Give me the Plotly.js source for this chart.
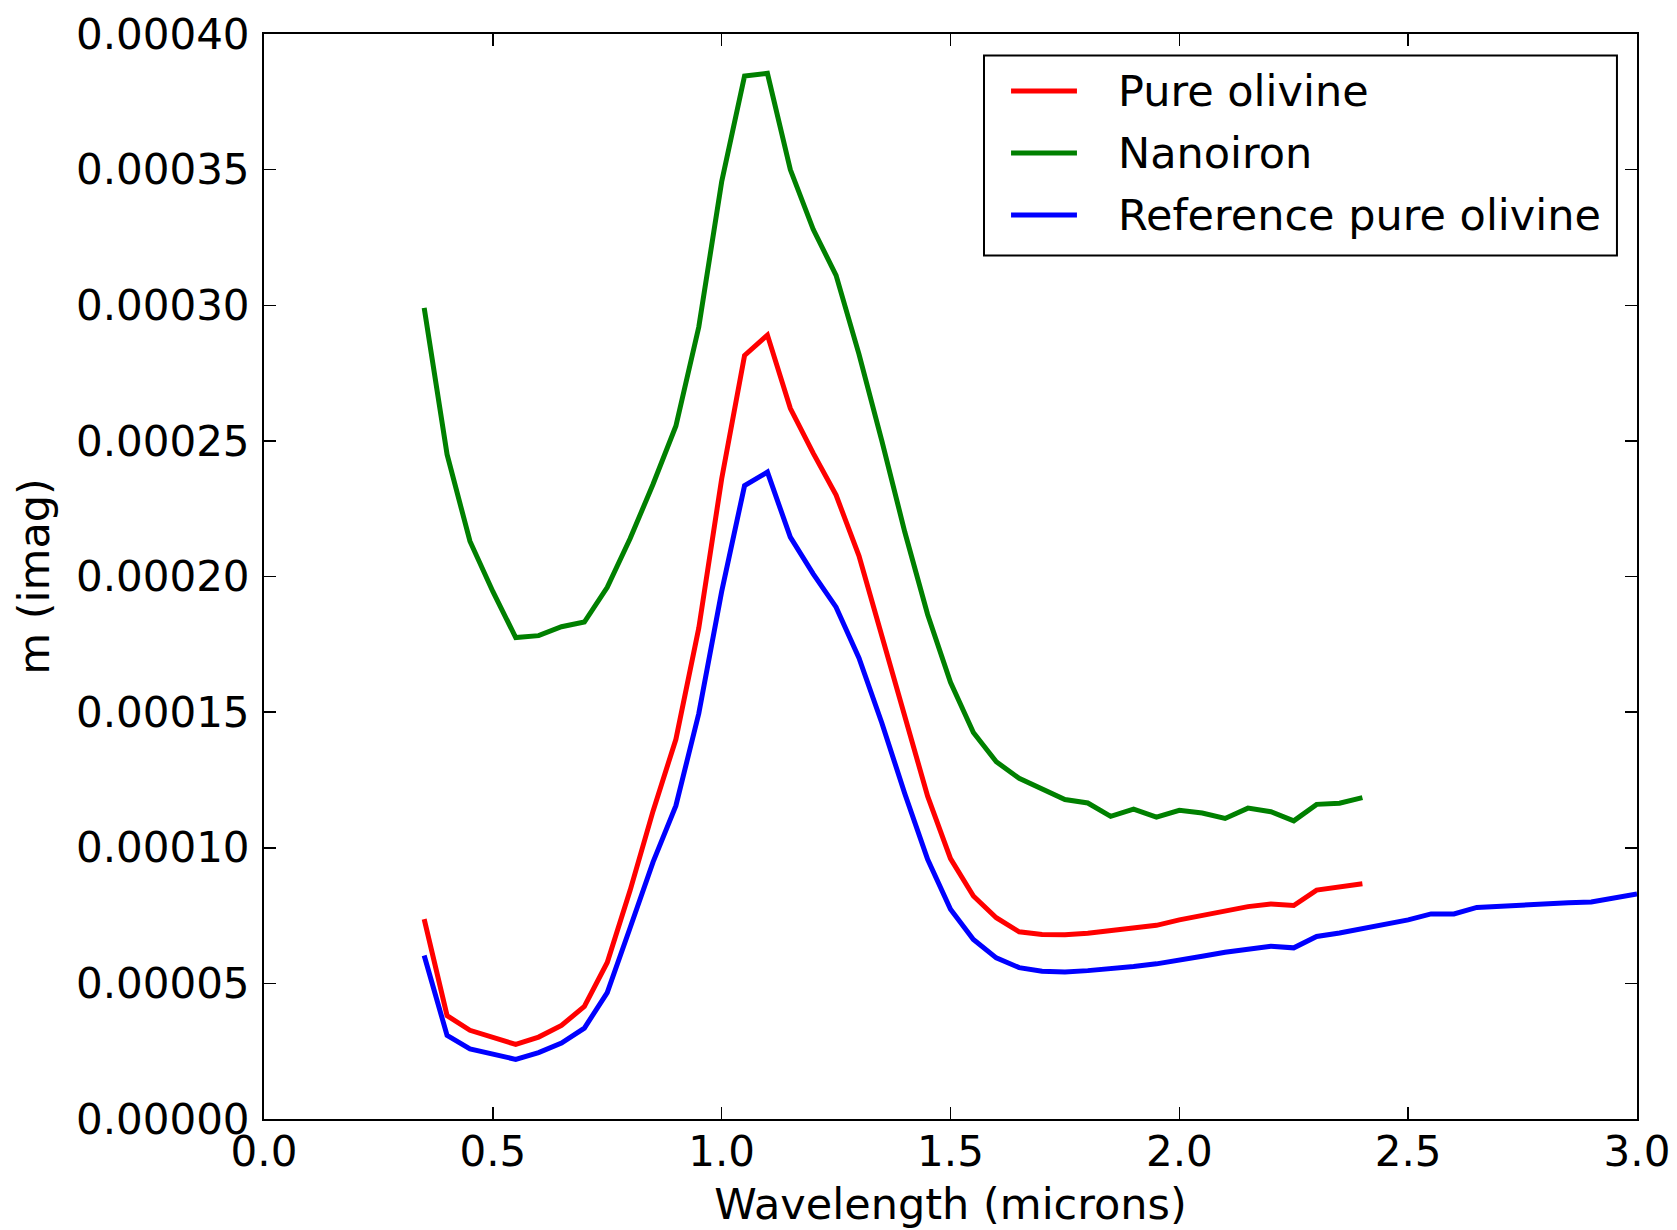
<!DOCTYPE html>
<html>
<head>
<meta charset="utf-8">
<script src="https://cdn.plot.ly/plotly-3.0.1.min.js"></script>
<style>html,body{margin:0;padding:0;background:#fff;}#chart{width:1677px;height:1230px;}</style>
</head>
<body>
<div id="chart"></div>
<script>
// Wavelength (microns)
const wavelength = [0.35,0.40,0.45,0.50,0.55,0.60,0.65,0.70,0.75,0.80,0.85,0.90,0.95,1.00,1.05,1.10,1.15,1.20,1.25,1.30,1.35,1.40,1.45,1.50,1.55,1.60,1.65,1.70,1.75,1.80,1.85,1.90,1.95,2.00,2.05,2.10,2.15,2.20,2.25,2.30,2.35,2.40];
const wavelengthRef = [0.35,0.40,0.45,0.50,0.55,0.60,0.65,0.70,0.75,0.80,0.85,0.90,0.95,1.00,1.05,1.10,1.15,1.20,1.25,1.30,1.35,1.40,1.45,1.50,1.55,1.60,1.65,1.70,1.75,1.80,1.85,1.90,1.95,2.00,2.05,2.10,2.15,2.20,2.25,2.30,2.35,2.40,2.45,2.50,2.55,2.60,2.65,2.70,2.75,2.80,2.85,2.90,2.95,3.00];

const pureOlivine = [0.737e-4,0.381e-4,0.327e-4,0.300e-4,0.275e-4,0.302e-4,0.345e-4,0.415e-4,0.577e-4,0.843e-4,1.135e-4,1.400e-4,1.810e-4,2.360e-4,2.815e-4,2.890e-4,2.620e-4,2.455e-4,2.300e-4,2.076e-4,1.780e-4,1.500e-4,1.190e-4,0.960e-4,0.822e-4,0.742e-4,0.690e-4,0.680e-4,0.679e-4,0.685e-4,0.695e-4,0.703e-4,0.714e-4,0.734e-4,0.750e-4,0.768e-4,0.783e-4,0.793e-4,0.787e-4,0.844e-4,0.856e-4,0.867e-4];

const nanoiron = [2.990e-4,2.450e-4,2.130e-4,1.945e-4,1.775e-4,1.782e-4,1.815e-4,1.832e-4,1.960e-4,2.140e-4,2.340e-4,2.555e-4,2.920e-4,3.455e-4,3.845e-4,3.855e-4,3.500e-4,3.280e-4,3.110e-4,2.820e-4,2.500e-4,2.165e-4,1.860e-4,1.610e-4,1.425e-4,1.317e-4,1.256e-4,1.218e-4,1.178e-4,1.165e-4,1.116e-4,1.142e-4,1.113e-4,1.138e-4,1.128e-4,1.108e-4,1.146e-4,1.133e-4,1.099e-4,1.160e-4,1.164e-4,1.185e-4];

const referencePureOlivine = [0.603e-4,0.308e-4,0.258e-4,0.239e-4,0.220e-4,0.245e-4,0.280e-4,0.335e-4,0.466e-4,0.705e-4,0.947e-4,1.155e-4,1.495e-4,1.945e-4,2.335e-4,2.385e-4,2.145e-4,2.010e-4,1.887e-4,1.700e-4,1.460e-4,1.200e-4,0.957e-4,0.773e-4,0.662e-4,0.594e-4,0.558e-4,0.545e-4,0.542e-4,0.547e-4,0.553e-4,0.562e-4,0.572e-4,0.584e-4,0.600e-4,0.615e-4,0.628e-4,0.637e-4,0.631e-4,0.673e-4,0.686e-4,0.701e-4,0.717e-4,0.734e-4,0.756e-4,0.756e-4,0.780e-4,0.785e-4,0.790e-4,0.795e-4,0.797e-4,0.800e-4,0.815e-4,0.830e-4];

const seriesNames = ['Pure olivine','Nanoiron','Reference pure olivine'];
const seriesColors = ['#ff0000','#008000','#0000ff'];

const FONT = 'DejaVu Sans, Liberation Sans, sans-serif';
const LW = 5;

const traces = [
  {x: wavelength, y: pureOlivine, name: seriesNames[0], type: 'scatter', mode: 'lines', line: {color: seriesColors[0], width: LW}},
  {x: wavelength, y: nanoiron, name: seriesNames[1], type: 'scatter', mode: 'lines', line: {color: seriesColors[1], width: LW}},
  {x: wavelengthRef, y: referencePureOlivine, name: seriesNames[2], type: 'scatter', mode: 'lines', line: {color: seriesColors[2], width: LW}}
];

const axisCommon = {
  showline: true, mirror: 'ticks', linecolor: '#000', linewidth: 2,
  ticks: 'inside', ticklen: 12, tickwidth: 1.5, tickcolor: '#000',
  showgrid: false, zeroline: false,
  tickfont: {family: FONT, size: 42, color: '#000'}
};

// Legend drawn as a framed box (matplotlib style) in paper coordinates
const legBox = {x0: 0.5244, x1: 0.9854, y0: 0.7958, y1: 0.9801};
const legRowsY = [0.9475, 0.8903, 0.8332];
const legLineX = [0.5441, 0.5921];
const legTextX = 0.6205;

const shapes = [{
  type: 'rect', xref: 'paper', yref: 'paper',
  x0: legBox.x0, x1: legBox.x1, y0: legBox.y0, y1: legBox.y1,
  line: {color: '#000', width: 2}, fillcolor: '#fff', layer: 'above'
}];
const annotations = [];
seriesNames.forEach((name, i) => {
  shapes.push({
    type: 'line', xref: 'paper', yref: 'paper',
    x0: legLineX[0], x1: legLineX[1], y0: legRowsY[i], y1: legRowsY[i],
    line: {color: seriesColors[i], width: LW}, layer: 'above'
  });
  annotations.push({
    xref: 'paper', yref: 'paper', x: legTextX, y: legRowsY[i],
    xanchor: 'left', yanchor: 'middle', showarrow: false,
    text: name, font: {family: FONT, size: 43, color: '#000'}
  });
});

const layout = {
  width: 1677, height: 1230,
  paper_bgcolor: '#fff', plot_bgcolor: '#fff',
  margin: {l: 264, r: 40, t: 34, b: 111},
  font: {family: FONT, color: '#000', size: 42},
  xaxis: Object.assign({}, axisCommon, {
    range: [0, 3], dtick: 0.5, tick0: 0, tickformat: '.1f',
    ticklabelstandoff: -5,
    title: {text: 'Wavelength (microns)', font: {family: FONT, size: 43, color: '#000'}, standoff: 13}
  }),
  yaxis: Object.assign({}, axisCommon, {
    range: [0, 0.0004], dtick: 0.00005, tick0: 0, tickformat: '.5f',
    ticklabelstandoff: 4,
    title: {text: 'm (imag)', font: {family: FONT, size: 43, color: '#000'}, standoff: 13}
  }),
  showlegend: false,
  shapes: shapes,
  annotations: annotations
};

Plotly.newPlot('chart', traces, layout, {displayModeBar: false, staticPlot: true});
</script>
</body>
</html>
